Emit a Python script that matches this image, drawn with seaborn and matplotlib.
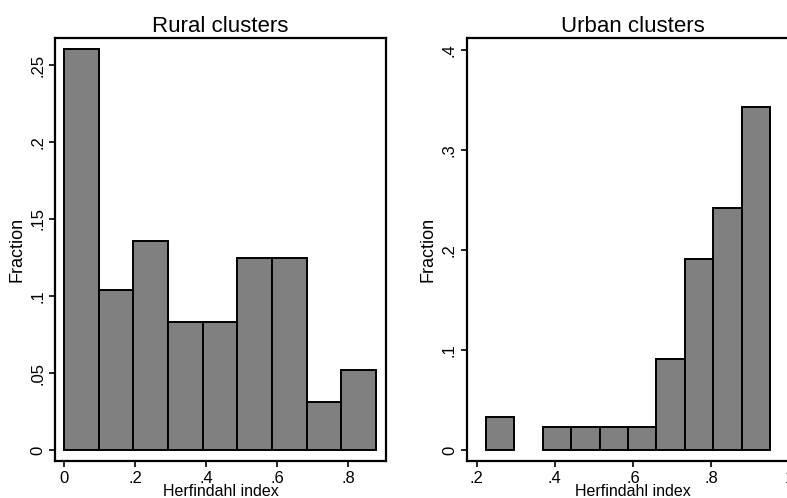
import numpy as np
import pandas as pd
import matplotlib
matplotlib.use("Agg")
import matplotlib.pyplot as plt
import seaborn as sns
from matplotlib.ticker import FuncFormatter

# ---- data ----
rural_bin_start = 0.0
rural_bin_width = 0.0975
rural_fraction = [0.2604, 0.1042, 0.1354, 0.0833, 0.0833, 0.1250, 0.1250, 0.0313, 0.0521]

urban_bin_start = 0.2238
urban_bin_width = 0.0727
urban_fraction = [0.0327, 0.0, 0.0233, 0.0233, 0.0233, 0.0233, 0.0910, 0.1910, 0.2423, 0.3427]

rural_xticks = [0, 0.2, 0.4, 0.6, 0.8]
rural_yticks = [0, 0.05, 0.10, 0.15, 0.20, 0.25]
urban_xticks = [0.2, 0.4, 0.6, 0.8, 1.0]
urban_yticks = [0, 0.1, 0.2, 0.3, 0.4]

titles = ["Rural clusters", "Urban clusters"]
xlabel = "Herfindahl index"
ylabel = "Fraction"


def make_df(start, width, frac):
    n = len(frac)
    edges = [float(start + width * i) for i in range(n + 1)]
    centers = [(edges[i] + edges[i + 1]) / 2 for i in range(n)]
    return pd.DataFrame({"x": centers, "w": frac}), edges


sns.set_theme(style="white")
plt.rcParams["font.family"] = ["Liberation Sans", "DejaVu Sans"]

W, H = 787, 498
fig = plt.figure(figsize=(W / 100, H / 100), dpi=100)


def fmt(v, pos):
    s = f"{v:g}"
    if s.startswith("0."):
        s = s[1:]
    return s


def panel(rect, start, width, frac, xlim, ylim, xt, yt, title):
    ax = fig.add_axes(rect)
    df, edges = make_df(start, width, frac)
    sns.histplot(data=df, x="x", weights="w", bins=edges, ax=ax,
                 color="#808080", alpha=1.0, edgecolor="black",
                 linewidth=1.4, stat="count")
    # empty bins draw nothing (as in the reference)
    for p in ax.patches:
        if p.get_height() <= 0:
            p.set_visible(False)
    ax.set_xlim(*xlim)
    ax.set_ylim(*ylim)
    ax.set_xticks(xt)
    ax.set_yticks(yt)
    ax.xaxis.set_major_formatter(FuncFormatter(fmt))
    ax.yaxis.set_major_formatter(FuncFormatter(fmt))
    ax.tick_params(axis="both", direction="out", length=4, width=1.2,
                   color="black", labelsize=12, labelcolor="black",
                   bottom=True, left=True, pad=3)
    for lab in ax.get_yticklabels():
        lab.set_rotation(90)
        lab.set_va("center")
    for s in ax.spines.values():
        s.set_visible(True)
        s.set_color("black")
        s.set_linewidth(1.6)
    ax.set_title(title, fontsize=16, pad=4, color="black")
    ax.set_xlabel(xlabel, fontsize=11.5, color="black")
    ax.xaxis.set_label_coords(0.5, -0.073)
    ax.xaxis.label.set_va("center")
    ax.set_ylabel(ylabel, fontsize=13, color="black")
    ax.yaxis.label.set_va("center")
    ax.grid(False)
    return ax


ax1 = panel([55 / W, 37 / H, 331 / W, 423 / H],
            rural_bin_start, rural_bin_width, rural_fraction,
            (-0.025, 0.906), (-0.0071, 0.2675),
            rural_xticks, rural_yticks, titles[0])
ax1.yaxis.set_label_coords(-0.116, 0.5)

ax2 = panel([466.7 / W, 37 / H, 331.6 / W, 423 / H],
            urban_bin_start, urban_bin_width, urban_fraction,
            (0.1744, 1.023), (-0.011, 0.412),
            urban_xticks, urban_yticks, titles[1])
ax2.yaxis.set_label_coords(-0.118, 0.5)

fig.savefig("out.png", dpi=100, facecolor="white")
